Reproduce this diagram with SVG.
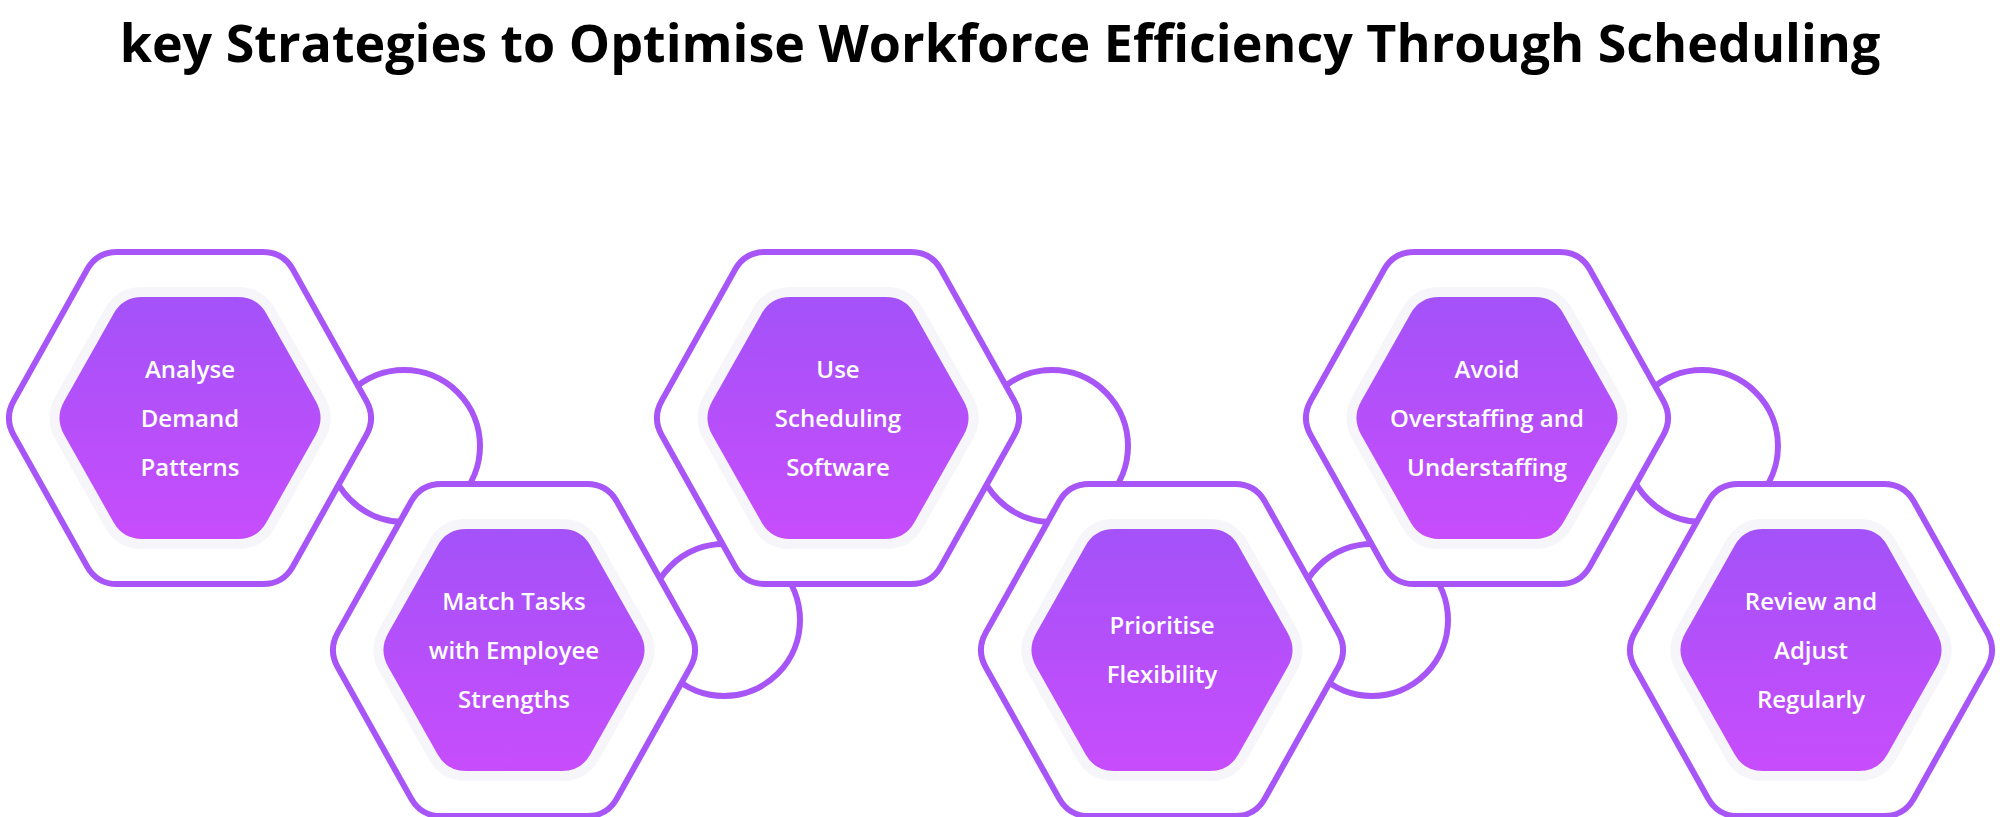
<svg xmlns="http://www.w3.org/2000/svg" xmlns:xlink="http://www.w3.org/1999/xlink" width="2000" height="817" viewBox="0 0 2000 817">
<style>
.outer{fill:#fff;stroke:#a855f7;stroke-width:6}
.inner{fill:url(#g);stroke:#f6f5f9;stroke-width:10}
.lbl{font-family:"Open Sans","Noto Sans",sans-serif;font-weight:600;font-size:24px;fill:#fff;text-anchor:middle}
.conn{fill:none;stroke:#a855f7;stroke-width:6}
.title{font-family:"Open Sans","Noto Sans",sans-serif;font-weight:700;font-size:52px;fill:#000;text-anchor:middle}
</style>
<defs>
<linearGradient id="g" x1="0" y1="0" x2="0" y2="1">
<stop offset="0" stop-color="#a352f9"/>
<stop offset="1" stop-color="#c84dfc"/>
</linearGradient>
<path id="ho" d="M -73,-166 L 73,-166 Q 93,-166 102.8,-148.6 L 176.2,-17.4 Q 186,0 176.2,17.4 L 102.8,148.6 Q 93,166 73,166 L -73,166 Q -93,166 -102.8,148.6 L -176.2,17.4 Q -186,0 -176.2,-17.4 L -102.8,-148.6 Q -93,-166 -73,-166 Z"/>
<path id="hi" d="M -48,-126 L 48,-126 Q 70,-126 80.8,-106.8 L 130.2,-19.2 Q 141,0 130.2,19.2 L 80.8,106.8 Q 70,126 48,126 L -48,126 Q -70,126 -80.8,106.8 L -130.2,19.2 Q -141,0 -130.2,-19.2 L -80.8,-106.8 Q -70,-126 -48,-126 Z"/>
</defs>
<rect width="2000" height="817" fill="#fff"/>
<text class="title" x="1000" y="62">key Strategies to Optimise Workforce Efficiency Through Scheduling</text>
<g id="connectors">
<circle class="conn" cx="404" cy="446" r="76"/>
<circle class="conn" cx="724" cy="620" r="76"/>
<circle class="conn" cx="1052" cy="446" r="76"/>
<circle class="conn" cx="1372" cy="620" r="76"/>
<circle class="conn" cx="1702" cy="446" r="76"/>
</g>
<g id="n1" transform="translate(190,418)"><use href="#ho" class="outer"/><use href="#hi" class="inner"/>
<text class="lbl"><tspan x="0" y="-40">Analyse</tspan><tspan x="0" y="9">Demand</tspan><tspan x="0" y="58">Patterns</tspan></text></g>
<g id="n2" transform="translate(514,650)"><use href="#ho" class="outer"/><use href="#hi" class="inner"/>
<text class="lbl"><tspan x="0" y="-40">Match Tasks</tspan><tspan x="0" y="9">with Employee</tspan><tspan x="0" y="58">Strengths</tspan></text></g>
<g id="n3" transform="translate(838,418)"><use href="#ho" class="outer"/><use href="#hi" class="inner"/>
<text class="lbl"><tspan x="0" y="-40">Use</tspan><tspan x="0" y="9">Scheduling</tspan><tspan x="0" y="58">Software</tspan></text></g>
<g id="n4" transform="translate(1162,650)"><use href="#ho" class="outer"/><use href="#hi" class="inner"/>
<text class="lbl"><tspan x="0" y="-16">Prioritise</tspan><tspan x="0" y="33">Flexibility</tspan></text></g>
<g id="n5" transform="translate(1487,418)"><use href="#ho" class="outer"/><use href="#hi" class="inner"/>
<text class="lbl"><tspan x="0" y="-40">Avoid</tspan><tspan x="0" y="9">Overstaffing and</tspan><tspan x="0" y="58">Understaffing</tspan></text></g>
<g id="n6" transform="translate(1811,650)"><use href="#ho" class="outer"/><use href="#hi" class="inner"/>
<text class="lbl"><tspan x="0" y="-40">Review and</tspan><tspan x="0" y="9">Adjust</tspan><tspan x="0" y="58">Regularly</tspan></text></g>
</svg>
